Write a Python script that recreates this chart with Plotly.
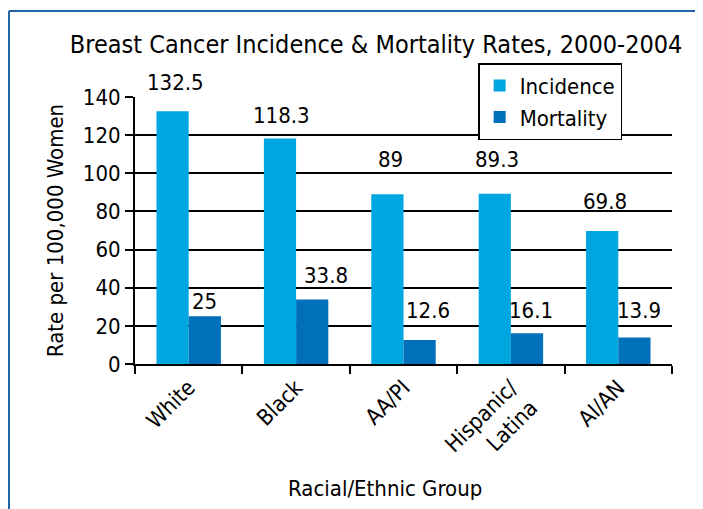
import plotly.graph_objects as go

categories = ["White", "Black", "AA/PI", "Hispanic/<br>Latina", "AI/AN"]
incidence = [132.5, 118.3, 89, 89.3, 69.8]
mortality = [25, 33.8, 12.6, 16.1, 13.9]
y_ticks = [0, 20, 40, 60, 80, 100, 120, 140]

# label placement tuning (pixels), kept apart from the data
inc_label_dx = [-13, -15, -13, -14, -13]
inc_label_dy = [14, 8, 20, 20, 15]
mor_label_dx = [16, 30, 24, 20, 21]
mor_label_dy = [0, 10, 15, 8, 12]

FONT = "DejaVu Sans Condensed, Liberation Sans Narrow, Roboto, sans-serif"
C_INC = "#00A6DF"
C_MOR = "#0070BA"
BORDER = "#1F63AB"

fig = go.Figure()
fig.add_trace(go.Bar(name="Incidence", x=categories, y=incidence,
                     marker=dict(color=C_INC, line=dict(width=0))))
fig.add_trace(go.Bar(name="Mortality", x=categories, y=mortality,
                     marker=dict(color=C_MOR, line=dict(width=0))))

annotations = []
for cat, v, dx, dy in zip(categories, incidence, inc_label_dx, inc_label_dy):
    annotations.append(dict(x=cat, y=v, text=str(v), showarrow=False, xref="x", yref="y",
                            yanchor="bottom", yshift=dy, xshift=dx,
                            font=dict(family=FONT, size=22, color="black")))
for cat, v, dx, dy in zip(categories, mortality, mor_label_dx, mor_label_dy):
    annotations.append(dict(x=cat, y=v, text=str(v), showarrow=False, xref="x", yref="y",
                            yanchor="bottom", yshift=dy, xshift=dx,
                            font=dict(family=FONT, size=22, color="black")))
annotations.append(dict(x=0.4655, y=-0.468, xref="paper", yref="paper", showarrow=False,
                        text="Racial/Ethnic Group", xanchor="center", yanchor="middle",
                        font=dict(family=FONT, size=22, color="black")))

fig.update_layout(
    width=703, height=509,
    margin=dict(l=127, r=39, t=89, b=153),
    paper_bgcolor="white", plot_bgcolor="white",
    barmode="group", bargap=0.4, bargroupgap=0,
    font=dict(family=FONT, size=22, color="black"),
    title=dict(text="Breast Cancer Incidence & Mortality Rates, 2000-2004",
               x=0.449, xref="paper", xanchor="center", y=0.929, yanchor="middle",
               font=dict(family=FONT, size=25, color="black")),
    legend=dict(x=0.639, y=1.127, xanchor="left", yanchor="top",
                bgcolor="white", bordercolor="black", borderwidth=1.5,
                font=dict(family=FONT, size=22, color="black"),
                itemsizing="constant", tracegroupgap=0),
    annotations=annotations,
    shapes=[dict(type="line", xref="paper", yref="paper", x0=-0.2346, x1=1.0726, y0=1.322, y1=1.322,
                 line=dict(color=BORDER, width=2)),
            dict(type="line", xref="paper", yref="paper", x0=-0.2346, x1=-0.2346, y0=1.322, y1=-0.6,
                 line=dict(color=BORDER, width=2))],
)
fig.update_xaxes(showline=True, linecolor="black", linewidth=2, ticks="outside",
                 tickson="boundaries", ticklen=8, tickwidth=2, tickcolor="black",
                 tickangle=-45, tickfont=dict(family=FONT, size=22), automargin=False)
fig.update_yaxes(range=[0, 140], tickvals=y_ticks, showline=True, linecolor="black", linewidth=2,
                 ticks="outside", ticklen=8, tickwidth=2, tickcolor="black",
                 showgrid=True, gridcolor="black", gridwidth=1.5, zeroline=False,
                 tickfont=dict(family=FONT, size=22), automargin=False,
                 title=dict(text="Rate per 100,000 Women", font=dict(family=FONT, size=22), standoff=13))

fig.write_html("out.html",
               post_script="document.documentElement.style.overflow='hidden';"
                           "document.body.style.overflow='hidden';")
